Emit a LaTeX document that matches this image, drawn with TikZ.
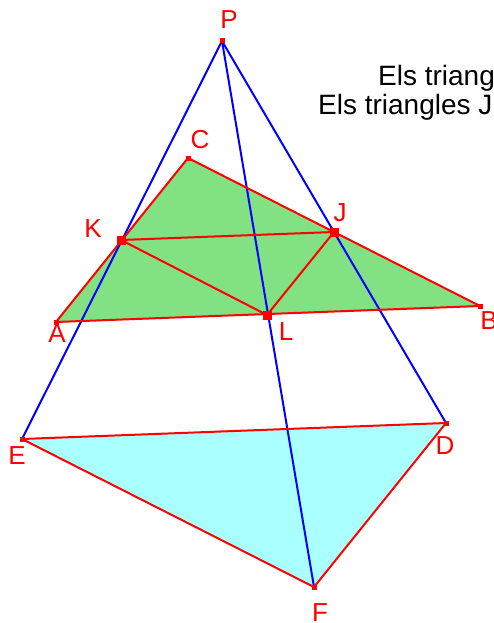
\documentclass[tikz,border=0pt]{standalone}
\usepackage{fontspec}
\setmainfont{Liberation Sans}
\usetikzlibrary{positioning}
\definecolor{colVerd}{HTML}{82E182}
\definecolor{colCian}{HTML}{AAFFFF}
\definecolor{colVermell}{HTML}{FF0000}
\definecolor{colBlau}{HTML}{0000FF}

\begin{document}
\begin{tikzpicture}[
        x=1pt,
        y=-1pt,
        vora/.style={colVermell, line width=2pt, line join=round},
        raig/.style={colBlau, line width=2pt},
        punt/.style={fill=colVermell, inner sep=0pt, minimum size=5pt},
        puntgran/.style={fill=colVermell, inner sep=0pt, minimum size=9pt},
        etiq/.style={colVermell, inner sep=0pt, font=\fontsize{26}{30}\selectfont},
        enunciat/.style={black, inner sep=0pt, anchor=base west, font=\fontsize{28}{32}\selectfont}
    ]
        \useasboundingbox (0,0) rectangle (493,623);
        \clip (0,0) rectangle (493,623);

        % Vèrtexs dels triangles i centre de projecció.
        \coordinate (P) at (222,41);
        \coordinate (C) at (188,158);
        \coordinate (K) at (121,240);
        \coordinate (J) at (334,232);
        \coordinate (A) at (56,322);
        \coordinate (L) at (267,315);
        \coordinate (B) at (480,306);
        \coordinate (E) at (22,439);
        \coordinate (D) at (446,423);
        \coordinate (F) at (314,587);

        % Triangles plens.
        \fill[colVerd] (A) -- (B) -- (C) -- cycle;
        \fill[colCian] (E) -- (D) -- (F) -- cycle;

        % Rectes des de P.
        \draw[raig] (P) -- (E);
        \draw[raig] (P) -- (F);
        \draw[raig] (P) -- (D);

        % Costats.
        \draw[vora] (A) -- (B) -- (C) -- cycle;
        \draw[vora] (E) -- (D) -- (F) -- cycle;
        \draw[vora] (K) -- (J) -- (L) -- cycle;

        % Punts.
        \foreach \p in {P,C,A,B,E,D,F}
            \node[punt] (m\p) at (\p) {};
        \foreach \p in {K,J,L}
            \node[puntgran] (m\p) at (\p) {};

        % Noms dels punts.
        \node[etiq] (lP) at (229,20) {P};
        \node[etiq] (lC) at (200,140) {C};
        \node[etiq] (lK) at (93,229) {K};
        \node[etiq] (lJ) at (340,213) {J};
        \node[etiq] (lA) at (57,334) {A};
        \node[etiq] (lL) at (286,332) {L};
        \node[etiq] (lB) at (489,321) {B};
        \node[etiq] (lE) at (17,456) {E};
        \node[etiq] (lD) at (445,446) {D};
        \node[etiq] (lF) at (320,613) {F};

        % Text de l'enunciat, tallat pel marge.
        \node[enunciat] (t1) at (378,86) {Els triang};
        \node[enunciat] (t2) at (318,114) {Els triangles J};
    \end{tikzpicture}
\end{document}
